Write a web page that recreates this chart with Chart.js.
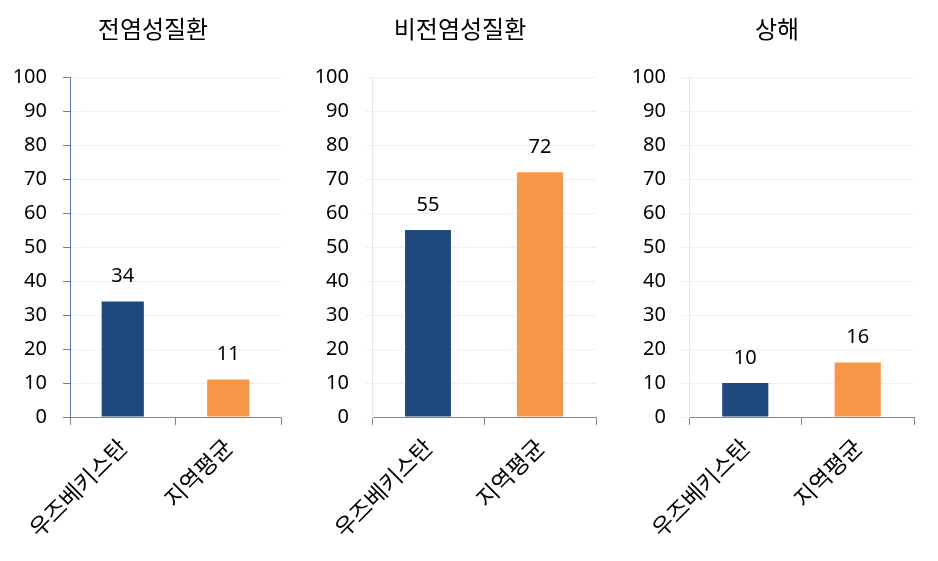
<!DOCTYPE html>
<html>
<head>
<meta charset="utf-8">
<script src="https://cdn.jsdelivr.net/npm/chart.js@4"></script>
<style>
  body { margin: 0; background: #fff; }
  .panel { position: absolute; top: 0; }
</style>
</head>
<body>
<div class="panel" style="left:0px"><canvas id="c1" width="300" height="561"></canvas></div>
<div class="panel" style="left:300px"><canvas id="c2" width="320" height="561"></canvas></div>
<div class="panel" style="left:620px"><canvas id="c3" width="318" height="561"></canvas></div>
<script>
const categories = ['우즈베키스탄', '지역평균'];
const panelTitles = ['전염성질환', '비전염성질환', '상해'];
const infectious = [34, 11];
const nonInfectious = [55, 72];
const injury = [10, 16];
const yTicks = [0, 10, 20, 30, 40, 50, 60, 70, 80, 90, 100];

const barColors = ['#1F497D', '#F79646'];
const KR = '"Noto Sans CJK KR", "Noto Sans", sans-serif';
const NUM = '"Noto Sans", "DejaVu Sans", sans-serif';

// value printed above each bar + panel title
const decorations = {
    id: 'decorations',
    afterDatasetsDraw(chart, args, o) {
        const ctx = chart.ctx;
        const meta = chart.getDatasetMeta(0);
        ctx.save();
        ctx.font = '20px ' + NUM;
        ctx.fillStyle = '#000';
        ctx.textAlign = 'center';
        ctx.textBaseline = 'middle';
        meta.data.forEach((bar, i) => {
            ctx.fillText(String(chart.data.datasets[0].data[i]), bar.x, bar.y - 25);
        });
        ctx.font = '24px ' + KR;
        ctx.fillText(o.text, o.x, 29);
        ctx.restore();
    }
};

function makePanel(canvasId, title, values, opts) {
    const el = document.getElementById(canvasId);
    return new Chart(el.getContext('2d'), {
        type: 'bar',
        data: {
            labels: categories,
            datasets: [{
                data: values,
                backgroundColor: barColors,
                borderWidth: 0,
                barPercentage: opts.barPct,
                categoryPercentage: 1
            }]
        },
        plugins: [decorations],
        options: {
            responsive: false,
            animation: false,
            layout: { padding: { left: 0, right: opts.right, top: 77, bottom: 0 } },
            plugins: {
                legend: { display: false },
                tooltip: { enabled: false },
                title: { display: false },
                decorations: { text: title, x: opts.titleX }
            },
            scales: {
                x: {
                    afterFit: s => { s.height = 144; },
                    grid: {
                        offset: true,
                        drawOnChartArea: false,
                        drawTicks: true,
                        tickLength: 8,
                        tickColor: '#868686'
                    },
                    border: { color: '#868686', width: 1 },
                    ticks: {
                        color: '#000',
                        font: { family: KR, size: 23 },
                        minRotation: 45,
                        maxRotation: 45,
                        padding: 8
                    }
                },
                y: {
                    min: 0,
                    max: 100,
                    afterFit: s => { s.width = opts.left; },
                    afterBuildTicks: s => { s.ticks = yTicks.map(v => ({ value: v })); },
                    grid: {
                        color: '#EDF0F5',
                        tickColor: opts.tickColor,
                        tickLength: 7
                    },
                    border: { color: opts.axisColor, width: 1 },
                    ticks: {
                        color: '#000',
                        font: { family: NUM, size: 20 },
                        padding: 16
                    }
                }
            }
        }
    });
}

makePanel('c1', panelTitles[0], infectious, { left: 70, right: 19, titleX: 153, barPct: 0.4, axisColor: '#4F81BD', tickColor: '#4F81BD' });
makePanel('c2', panelTitles[1], nonInfectious, { left: 72, right: 24, titleX: 160, barPct: 0.41, axisColor: '#E6E6E6', tickColor: '#EDF0F5' });
makePanel('c3', panelTitles[2], injury, { left: 69, right: 24, titleX: 157, barPct: 0.41, axisColor: '#E6E6E6', tickColor: '#EDF0F5' });
</script>
</body>
</html>
